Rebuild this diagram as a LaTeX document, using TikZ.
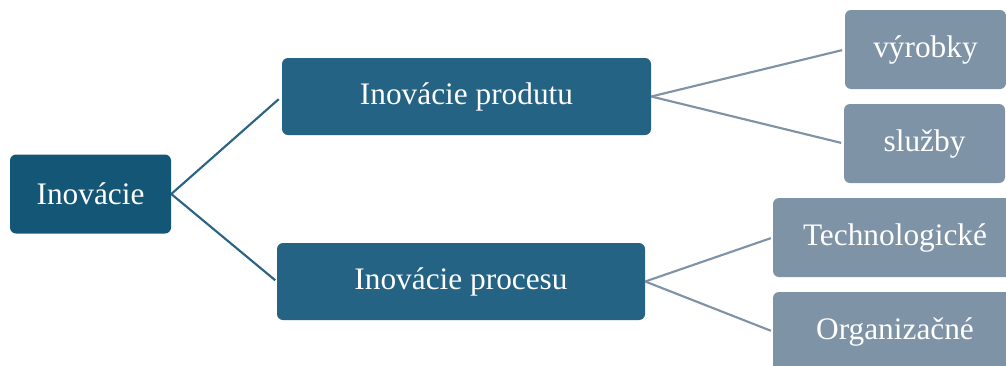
\documentclass[tikz,border=0pt]{standalone}
\usepackage{fontspec}
\setmainfont{Liberation Serif}
\definecolor{darkA}{HTML}{145676}
\definecolor{darkB}{HTML}{246383}
\definecolor{lineA}{HTML}{2A6485}
\definecolor{greyB}{HTML}{7F93A6}
\begin{document}
\begin{tikzpicture}[x=0.75pt,y=-0.75pt,
  box/.style={rectangle,rounded corners=4.5pt,text=white,inner sep=0pt,
    font=\fontsize{23.5pt}{28pt}\selectfont},
  lvlone/.style={box,fill=darkA},
  lvltwo/.style={box,fill=darkB},
  lvlthree/.style={box,fill=greyB},
  linkA/.style={draw=lineA,line width=1.6pt},
  linkB/.style={draw=greyB,line width=1.6pt}]
\useasboundingbox (0,0) rectangle (1006,365);
\clip (0,0) rectangle (1006,365);
\node[lvlone,minimum width=120.75pt,minimum height=59.25pt] (root) at (90.5,194) {Inovácie};
\node[lvltwo,minimum width=276.75pt,minimum height=57.75pt] (prod) at (466.5,96.5) {Inovácie produtu};
\node[lvltwo,minimum width=276pt,minimum height=57.75pt] (proc) at (461,281.5) {Inovácie procesu};
\node[lvlthree,minimum width=120.75pt,minimum height=59.25pt] (vyr) at (925.5,49.5) {výrobky};
\node[lvlthree,minimum width=120.75pt,minimum height=59.25pt] (sluz) at (924.5,143.5) {služby};
\node[lvlthree,minimum width=183pt,minimum height=59.25pt] (tech) at (895,237.5) {Technologické};
\node[lvlthree,minimum width=183pt,minimum height=59.25pt] (org) at (895,331.5) {Organizačné};
\draw[linkA,shorten >=3pt] (root.east) -- (prod.west);
\draw[linkA,shorten >=1.5pt] (root.east) -- (proc.west);
\draw[linkB,shorten >=2pt] (prod.east) -- (vyr.west);
\draw[linkB,shorten >=2pt] (prod.east) -- (sluz.west);
\draw[linkB,shorten >=1.5pt] (proc.east) -- (tech.west);
\draw[linkB,shorten >=1.5pt] (proc.east) -- (org.west);
\end{tikzpicture}
\end{document}
